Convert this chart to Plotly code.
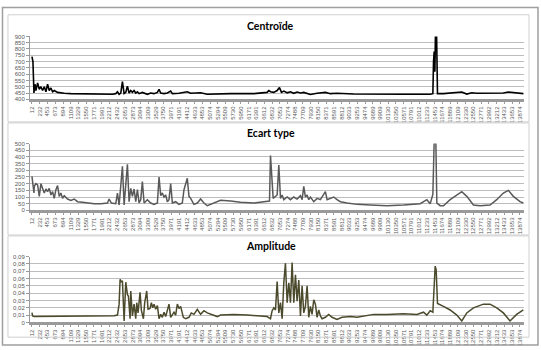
import plotly.graph_objects as go

# ---- tick labels (sample index) ----
x_tick_labels = [12, 232, 453, 673, 894, 1109, 1329, 1550, 1771, 1991, 2212, 2432, 2653, 2873,
                 3094, 3309, 3529, 3750, 3971, 4191, 4412, 4633, 4853, 5074, 5294, 5509, 5730,
                 5950, 6171, 6391, 6612, 6832, 7053, 7274, 7488, 7709, 7930, 8150, 8371, 8591,
                 8812, 9033, 9253, 9474, 9689, 9909, 10130, 10350, 10571, 10791, 11012, 11233,
                 11453, 11674, 11889, 12109, 12330, 12550, 12771, 12992, 13212, 13433, 13653, 13874]

cent_ticks = [400, 450, 500, 550, 600, 650, 700, 750, 800, 850, 900]
ecart_ticks = [0, 50, 100, 150, 200, 250, 300, 350, 400, 450, 500]
amp_ticks = [0, 0.01, 0.02, 0.03, 0.04, 0.05, 0.06, 0.07, 0.08, 0.09]
amp_tick_text = ["0", "0,01", "0,02", "0,03", "0,04", "0,05", "0,06", "0,07", "0,08", "0,09"]

# ---- Centroïde ----
cent_x = [12, 40, 69, 97, 125, 173, 220, 267, 314, 362, 409, 456, 503, 551, 598, 645, 740, 834,
          929, 1118, 1500, 2000, 2300, 2393, 2441, 2488, 2535, 2582, 2630, 2677, 2724, 2771, 2819,
          2866, 2913, 2960, 3008, 3055, 3149, 3291, 3386, 3480, 3575, 3622, 3669, 3764, 3858, 3953,
          4000, 4189, 4331, 4425, 4520, 4803, 4992, 5181, 5654, 6315, 6693, 6740,
          6788, 6882, 6977, 7043, 7100, 7166, 7261, 7355, 7450, 7544, 7639, 7733, 7828, 7922, 8111,
          8347, 8489, 8678, 9151, 9623, 10568, 11324, 11400, 11419, 11438, 11457, 11476, 11504,
          11532, 11702, 11985, 12222, 12364, 12505, 12647, 13403, 13545, 13687, 13970]
cent_y = [740, 700, 450, 520, 470, 530, 480, 500, 470, 500, 460, 520, 470, 490, 460, 470, 455, 450,
          448, 445, 442, 440, 440, 445, 460, 440, 450, 540, 445, 455, 505, 450, 470,
          455, 470, 450, 460, 445, 455, 440, 450, 445, 455, 480, 450, 445, 450, 465,
          445, 448, 452, 460, 448, 452, 440, 442, 445, 445, 455, 470,
          460, 455, 470, 494, 455, 465, 452, 460, 448, 458, 450, 455, 445, 438, 448,
          455, 445, 448, 442, 440, 440, 440, 445, 700, 780, 620, 950, 950,
          445, 445, 450, 458, 442, 452, 448, 450, 458, 452, 445]

# ---- Ecart type ----
ecart_x = [12, 40, 69, 78, 125, 173, 220, 267, 314, 362, 409, 456, 503, 551, 598, 645, 692, 740, 787,
           834, 881, 929, 1023, 1118, 1212, 1307, 1448, 1590, 1779, 1968, 2157, 2204, 2270, 2393,
           2441, 2488, 2582, 2630, 2724, 2771, 2819, 2866, 2913, 2960, 3008, 3055, 3102, 3149,
           3197, 3291, 3386, 3480, 3575, 3622, 3669, 3716, 3764, 3811, 3858, 3905, 3953, 4000,
           4094, 4189, 4283, 4331, 4378, 4425, 4472, 4520, 4614, 4709, 4803, 4898, 4992, 5181,
           5370, 5654, 5937, 6315, 6599, 6760,
           6788, 6864, 6977, 7024, 7072, 7119, 7166, 7261, 7355, 7450, 7544, 7639, 7686, 7733,
           7780, 7828, 7875, 7922, 8017, 8111, 8206, 8300, 8347, 8395, 8489, 8584, 8678, 8773,
           8962, 9245, 9623, 10096, 10568, 11041, 11230, 11324, 11400, 11419, 11438, 11485,
           11513, 11608, 11702, 11891, 12080, 12222, 12364, 12553, 12742, 13025, 13214, 13403,
           13545, 13687, 13876, 13970]
ecart_y = [255, 200, 130, 180, 200, 190, 105, 200, 155, 130, 160, 140, 165, 115, 140, 90, 155, 185, 105,
           130, 90, 110, 85, 75, 85, 65, 60, 55, 50, 50, 55, 85, 55, 50,
           130, 40, 330, 40, 345, 65, 165, 105, 160, 65, 155, 55, 80, 215,
           55, 80, 55, 45, 55, 250, 110, 130, 100, 115, 65, 80, 200, 55,
           65, 45, 55, 155, 190, 240, 105, 90, 45, 55, 85, 55, 35, 55,
           75, 70, 60, 55, 65, 70,
           410, 90, 115, 340, 90, 115, 80, 100, 80, 100, 85, 110, 80, 180,
           100, 115, 80, 100, 65, 90, 80, 115, 140, 80, 90, 100, 80, 65,
           55, 45, 40, 35, 40, 50, 80, 50, 120, 250, 520, 520,
           55, 35, 35, 80, 115, 140, 105, 40, 35, 40, 80, 130,
           150, 105, 65, 55]

# ---- Amplitude ----
amp_x = [12, 31, 78, 1023, 2346, 2441, 2488, 2516, 2554, 2582, 2630, 2677, 2724, 2752, 2800, 2819,
         2866, 2913, 2960, 2989, 3026, 3083, 3121, 3178, 3215, 3272, 3310, 3367, 3404, 3442, 3480,
         3527, 3575, 3622, 3669, 3716, 3764, 3811, 3858, 3905, 3953, 4047, 4094, 4142, 4189, 4236,
         4312, 4378, 4472, 4538, 4614, 4709, 4803, 4898, 4992, 5181, 5276, 5370, 5748, 6126, 6504,
         6693, 6788, 6835, 6883, 6930, 6977, 7024, 7072, 7119, 7166, 7213, 7261, 7308, 7355, 7402,
         7450, 7497, 7544, 7591, 7639, 7686, 7733, 7780, 7828, 7875, 7922, 7969, 8017, 8064, 8111,
         8158, 8206, 8253, 8347, 8442, 8536, 8678, 8820, 9056, 9245, 9434, 9718, 10096, 10568,
         10946, 11135, 11230, 11324, 11400, 11438, 11466, 11494, 11532, 11702, 11891, 12080,
         12222, 12364, 12553, 12836, 13025, 13214, 13403, 13592, 13781, 13970]
amp_y = [0.0135, 0.009, 0.008, 0.008, 0.009, 0.010, 0.025, 0.059, 0.055, 0.057, 0.002, 0.055, 0.038,
         0.036, 0.005, 0.043, 0.009, 0.025, 0.005, 0.027, 0.013, 0.041, 0.016, 0.005, 0.027, 0.043,
         0.018, 0.019, 0.027, 0.020, 0.025, 0.018, 0.023, 0.005, 0.011, 0.007, 0.014, 0.008, 0.016,
         0.025, 0.007, 0.014, 0.010, 0.025, 0.019, 0.022, 0.007, 0.005, 0.007, 0.013, 0.011, 0.018,
         0.011, 0.016, 0.013, 0.009, 0.008, 0.010, 0.011, 0.010, 0.009, 0.008,
         0.005, 0.016, 0.020, 0.017, 0.056, 0.013, 0.027, 0.005, 0.054, 0.081, 0.027, 0.054, 0.027,
         0.082, 0.027, 0.065, 0.029, 0.058, 0.009, 0.050, 0.013, 0.022, 0.050, 0.007, 0.022, 0.011,
         0.031, 0.025, 0.007, 0.017, 0.009, 0.005, 0.007, 0.011, 0.007, 0.004, 0.007, 0.008, 0.007,
         0.009, 0.011, 0.011, 0.012, 0.011, 0.014, 0.010, 0.016, 0.014, 0.054, 0.077, 0.072, 0.026,
         0.022, 0.017, 0.010, 0.002, 0.013, 0.020, 0.025, 0.025, 0.020, 0.013, 0.002, 0.011, 0.017]

W, H = 541, 350

def px(x):
    return x / W

def py(y):
    return 1 - y / H

fig = go.Figure()
fig.add_trace(go.Scatter(x=cent_x, y=cent_y, mode="lines", line=dict(color="#000000", width=1.6),
                         xaxis="x", yaxis="y", showlegend=False))
fig.add_trace(go.Scatter(x=ecart_x, y=ecart_y, mode="lines", line=dict(color="#595959", width=1.5),
                         xaxis="x2", yaxis="y2", showlegend=False))
fig.add_trace(go.Scatter(x=amp_x, y=amp_y, mode="lines", line=dict(color="#4b4a2c", width=1.5),
                         xaxis="x3", yaxis="y3", showlegend=False))

xr = [-45, 13990]
tick_font = dict(family="Liberation Sans", size=6, color="#595959")

def xaxis_cfg(anchor):
    return dict(domain=[px(29), px(524)], range=xr, anchor=anchor,
                tickvals=x_tick_labels, ticktext=[str(v) for v in x_tick_labels],
                tickangle=-90, tickfont=tick_font, showgrid=False, zeroline=False,
                showline=True, linecolor="#9a9a9a", linewidth=2.5, ticks="outside",
                ticklen=2, tickcolor="#9a9a9a")

def yaxis_cfg(anchor, top_px, bottom_px, rng, tv, tt=None):
    d = dict(domain=[py(bottom_px), py(top_px)], range=rng, anchor=anchor,
             tickvals=tv, tickfont=tick_font, showgrid=True, gridcolor="#bdbdbd", gridwidth=1,
             zeroline=False, showline=True, linecolor="#9a9a9a", linewidth=1,
             ticks="outside", ticklen=3, tickcolor="#9a9a9a")
    if tt is not None:
        d["ticktext"] = tt
    return d

fig.update_layout(
    width=W, height=H, margin=dict(l=0, r=0, t=0, b=0),
    paper_bgcolor="white", plot_bgcolor="white",
    xaxis=xaxis_cfg("y"),
    yaxis=yaxis_cfg("x", 34, 98, [400, 900], cent_ticks),
    xaxis2=xaxis_cfg("y2"),
    yaxis2=yaxis_cfg("x2", 143, 211, [0, 500], ecart_ticks),
    xaxis3=xaxis_cfg("y3"),
    yaxis3=yaxis_cfg("x3", 258, 325, [0, 0.09], amp_ticks, amp_tick_text),
)

shapes = []
shapes.append(dict(type="rect", xref="paper", yref="paper", x0=px(1.5), x1=px(538), y0=py(348), y1=py(4.5),
                   line=dict(color="#9f9f9f", width=1.5)))
for (t, b) in [(12, 121), (122, 236), (237, 340)]:
    shapes.append(dict(type="rect", xref="paper", yref="paper", x0=px(7), x1=px(529), y0=py(b), y1=py(t),
                       line=dict(color="#cfcfcf", width=1)))
fig.update_layout(shapes=shapes)

title_font = dict(family="Lato", size=10.5, color="#000000")
for text, ypos in [("<b>Centroïde</b>", 23), ("<b>Ecart type</b>", 132), ("<b>Amplitude</b>", 247)]:
    fig.add_annotation(text=text, xref="paper", yref="paper", x=px(270), y=py(ypos),
                       showarrow=False, font=title_font, xanchor="center", yanchor="middle")

fig.write_html("out.html")
